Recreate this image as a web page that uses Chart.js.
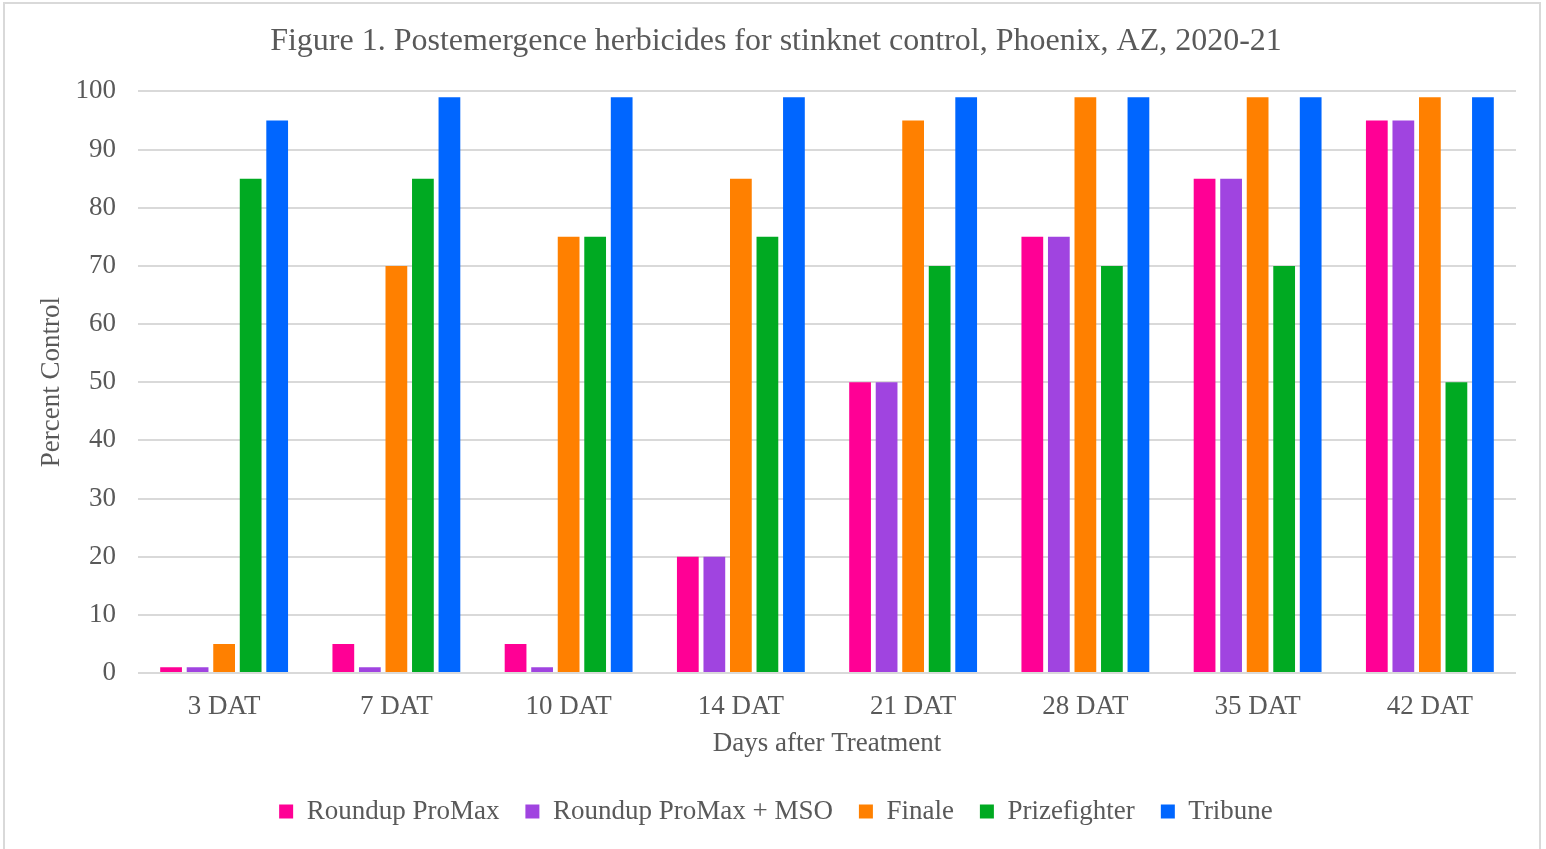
<!DOCTYPE html>
<html>
<head>
<meta charset="utf-8">
<script src="https://cdn.jsdelivr.net/npm/chart.js@4"></script>
<style>
  html, body { margin: 0; padding: 0; background: #fff; overflow: hidden; }
  #frame { position: absolute; left: 3px; top: 2px; width: 1538px; height: 860px; border: 2px solid #d9d9d9; box-sizing: border-box; }
  #wrap { position: absolute; left: 0; top: 0; width: 1546px; height: 849px; }
</style>
</head>
<body>
<div id="frame"></div>
<div id="wrap"><canvas id="c" width="1546" height="849"></canvas></div>
<script>
const categories = ["3 DAT", "7 DAT", "10 DAT", "14 DAT", "21 DAT", "28 DAT", "35 DAT", "42 DAT"];
const roundupProMax = [1, 5, 5, 20, 50, 75, 85, 95];
const roundupProMaxMSO = [1, 1, 1, 20, 50, 75, 85, 95];
const finale = [5, 70, 75, 85, 95, 99, 99, 99];
const prizefighter = [85, 85, 75, 75, 70, 70, 70, 50];
const tribune = [95, 99, 99, 99, 99, 99, 99, 99];
const seriesNames = ["Roundup ProMax", "Roundup ProMax + MSO", "Finale", "Prizefighter", "Tribune"];
const seriesColors = ["#ff0095", "#a044e0", "#ff8000", "#00aa22", "#0066ff"];
const seriesValues = [roundupProMax, roundupProMaxMSO, finale, prizefighter, tribune];

const FONT = "'Liberation Serif', 'Times New Roman', serif";
const TXT = "#595959";

new Chart(document.getElementById('c'), {
  type: 'bar',
  data: {
    labels: categories,
    datasets: seriesNames.map((n, i) => ({
      label: n,
      data: seriesValues[i],
      backgroundColor: seriesColors[i],
      borderWidth: 0,
      barPercentage: 0.82,
      categoryPercentage: 0.77
    }))
  },
  options: {
    responsive: false,
    animation: false,
    layout: { padding: { left: 36, right: 30, top: 22, bottom: 14 } },
    plugins: {
      title: {
        display: true,
        text: "Figure 1. Postemergence herbicides for stinknet control, Phoenix, AZ, 2020-21",
        font: { family: FONT, size: 32, weight: 'normal' },
        color: TXT,
        padding: { top: 0, bottom: 31 }
      },
      legend: {
        position: 'bottom',
        labels: {
          font: { family: FONT, size: 27 },
          color: TXT,
          boxWidth: 14,
          boxHeight: 14,
          padding: 26
        }
      },
      tooltip: { enabled: false }
    },
    scales: {
      x: {
        grid: { display: false },
        border: { display: false },
        ticks: { font: { family: FONT, size: 27 }, color: TXT, padding: 10 },
        title: { display: true, text: "Days after Treatment", font: { family: FONT, size: 27 }, color: TXT, padding: { top: 0, bottom: 12 } },
        afterFit: (s) => { s.height = 99; }
      },
      y: {
        min: 0, max: 100,
        ticks: { stepSize: 10, font: { family: FONT, size: 27 }, color: TXT, padding: 22 },
        grid: { color: "#d9d9d9", lineWidth: 2, drawTicks: false },
        border: { display: false },
        title: { display: true, text: "Percent Control", font: { family: FONT, size: 27 }, color: TXT, padding: { top: 0, bottom: 0 } },
        afterFit: (s) => { s.width = 102; }
      }
    }
  }
});
</script>
</body>
</html>
